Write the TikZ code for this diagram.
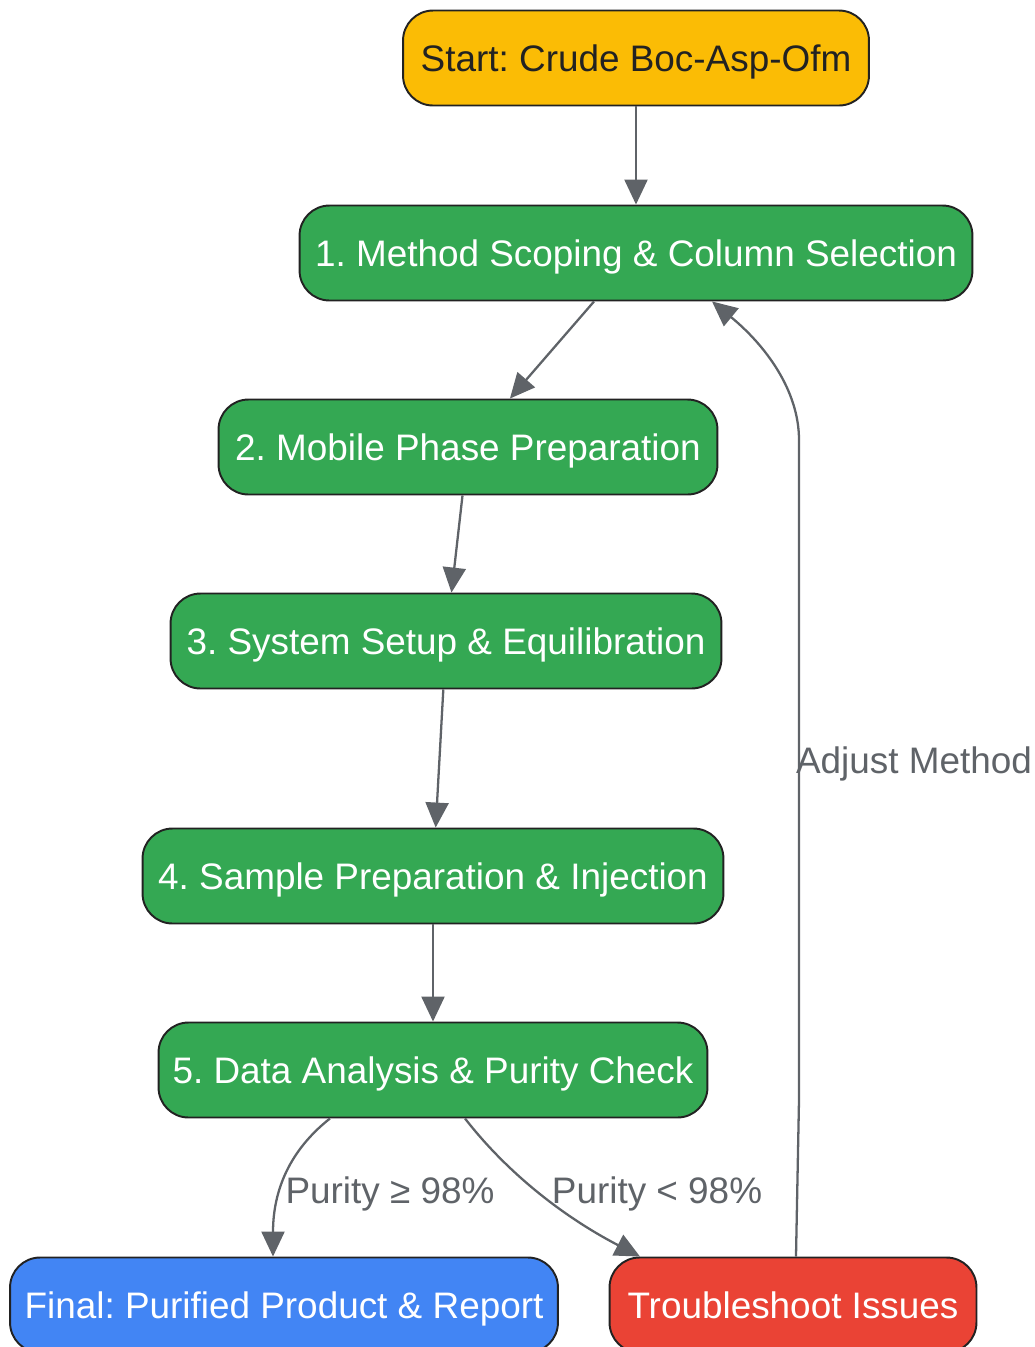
\documentclass[tikz,border=0pt]{standalone}
\usepackage{fontspec}
\setmainfont{Liberation Sans}
\usetikzlibrary{arrows.meta,calc}

\definecolor{startcol}{HTML}{FBBC05}
\definecolor{stepcol}{HTML}{34A853}
\definecolor{finalcol}{HTML}{4285F4}
\definecolor{failcol}{HTML}{EA4335}
\definecolor{edgecol}{HTML}{5F6368}
\definecolor{rimcol}{HTML}{222222}

\tikzset{
  box/.style={draw=rimcol, line width=1.1pt, rounded corners=0.6cm, minimum height=1.9cm,
    inner sep=0pt, font=\fontsize{21}{25}\selectfont, text=white, text height=15pt, text depth=0pt},
  flow/.style={draw=edgecol, line width=1.3pt, -{Triangle[length=0.5cm, width=0.46cm]}},
  lbl/.style={text=edgecol, inner sep=0pt, font=\fontsize{21}{25}\selectfont, text height=15pt, text depth=0pt}
}

\begin{document}
\frenchspacing
\begin{tikzpicture}[x=0.02cm, y=-0.02cm]
	\useasboundingbox (0,0) rectangle (1035,1347);

	% process steps
	\node[box, fill=startcol, text=rimcol, minimum width=9.32cm] (start) at (636,58) {Start: Crude Boc-Asp-Ofm};
	\node[box, fill=stepcol, minimum width=13.46cm] (n1) at (636,253) {1. Method Scoping \& Column Selection};
	\node[box, fill=stepcol, minimum width=9.98cm] (n2) at (468,447) {2. Mobile Phase Preparation};
	\node[box, fill=stepcol, minimum width=11.02cm] (n3) at (446,641) {3. System Setup \& Equilibration};
	\node[box, fill=stepcol, minimum width=11.62cm] (n4) at (433,876) {4. Sample Preparation \& Injection};
	\node[box, fill=stepcol, minimum width=10.98cm] (n5) at (433,1070) {5. Data Analysis \& Purity Check};
	\node[box, fill=finalcol, minimum width=10.96cm] (fin) at (284,1305) {Final: Purified Product \& Report};
	\node[box, fill=failcol, minimum width=7.34cm] (fix) at (793,1305) {Troubleshoot Issues};

	% straight links
	\draw[flow] (start) -- (n1);
	\draw[flow] (n1) -- (n2);
	\draw[flow] (n2) -- (n3);
	\draw[flow] (n3) -- (n4);
	\draw[flow] (n4) -- (n5);

	% decision
	\draw[flow] ($(n5.south)+(-103,0)$) .. controls (290,1150) and (273,1190) .. ($(fin.north)+(-11,0)$);
	\draw[flow] ($(n5.south)+(32,0)$) .. controls (505,1170) and (560,1215) .. ($(fix.north)+(-153,0)$);
	\node[lbl] (pass) at (390,1190) {Purity ≥ 98\%};
	\node[lbl] (fail) at (657,1190) {Purity < 98\%};

	% loop back
	\draw[flow] ($(fix.north)+(3,0)$) -- (799,1100) -- (799,440) .. controls (799,390) and (765,345) .. ($(n1.south)+(76,0)$);
	\node[lbl] (redo) at (914,760) {Adjust Method};
\end{tikzpicture}
\end{document}
